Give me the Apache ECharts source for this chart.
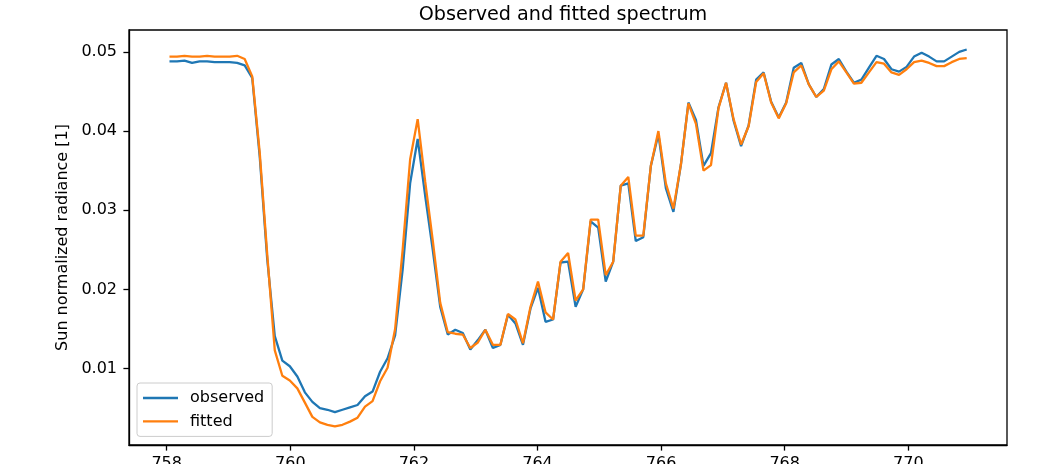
<!DOCTYPE html>
<html>
<head>
<meta charset="utf-8">
<script src="https://cdn.jsdelivr.net/npm/echarts@6/dist/echarts.min.js"></script>
<style>
html,body{margin:0;padding:0;background:#fff;}
#chart{width:1037px;height:464px;}
</style>
</head>
<body>
<div id="chart"></div>
<script>
const wavelength = [
758.045,758.167,758.288,758.410,758.532,758.654,758.775,758.897,759.019,759.140,
759.262,759.384,759.505,759.627,759.749,759.871,759.992,760.114,760.236,760.357,
760.479,760.601,760.722,760.844,760.966,761.088,761.209,761.331,761.453,761.574,
761.696,761.818,761.939,762.061,762.183,762.305,762.426,762.548,762.670,762.791,
762.913,763.035,763.156,763.278,763.400,763.522,763.643,763.765,763.887,764.008,
764.130,764.252,764.373,764.495,764.617,764.739,764.860,764.982,765.104,765.225,
765.347,765.469,765.590,765.712,765.834,765.956,766.077,766.199,766.321,766.442,
766.564,766.686,766.807,766.929,767.051,767.173,767.294,767.416,767.538,767.659,
767.781,767.903,768.024,768.146,768.268,768.390,768.511,768.633,768.755,768.876,
768.998,769.120,769.241,769.363,769.485,769.607,769.728,769.850,769.972,770.093,
770.215,770.337,770.458,770.580,770.702,770.824,770.945
];
const observed = [
0.0488,0.0488,0.0489,0.0486,0.0488,0.0488,0.0487,0.0487,0.0487,0.0486,
0.0483,0.0467,0.0368,0.0238,0.0141,0.0110,0.0103,0.0090,0.0070,0.0058,
0.0050,0.0048,0.0045,0.0048,0.0051,0.0054,0.0065,0.0071,0.0096,0.0113,
0.0142,0.0225,0.0334,0.0390,0.0318,0.0250,0.0178,0.0143,0.0149,0.0145,
0.0124,0.0136,0.0149,0.0126,0.0130,0.0168,0.0157,0.0130,0.0176,0.0202,
0.0159,0.0162,0.0234,0.0235,0.0178,0.0200,0.0286,0.0278,0.0210,0.0235,
0.0331,0.0334,0.0261,0.0266,0.0356,0.0396,0.0328,0.0298,0.0358,0.0436,
0.0414,0.0356,0.0372,0.0430,0.0461,0.0413,0.0381,0.0407,0.0465,0.0474,
0.0437,0.0417,0.0436,0.0480,0.0486,0.0459,0.0443,0.0453,0.0484,0.0491,
0.0475,0.0461,0.0465,0.0480,0.0495,0.0491,0.0478,0.0475,0.0481,0.0494,
0.0499,0.0494,0.0488,0.0488,0.0494,0.0500,0.0503
];
const fitted = [
0.0494,0.0494,0.0495,0.0494,0.0494,0.0495,0.0494,0.0494,0.0494,0.0495,
0.0491,0.0469,0.0373,0.0244,0.0123,0.0091,0.0085,0.0075,0.0057,0.0039,
0.0032,0.0029,0.0027,0.0029,0.0033,0.0038,0.0052,0.0059,0.0084,0.0101,
0.0150,0.0250,0.0364,0.0415,0.0336,0.0262,0.0183,0.0146,0.0144,0.0143,
0.0126,0.0133,0.0149,0.0130,0.0130,0.0169,0.0162,0.0132,0.0178,0.0210,
0.0171,0.0162,0.0235,0.0246,0.0186,0.0200,0.0288,0.0288,0.0218,0.0235,
0.0331,0.0342,0.0268,0.0268,0.0356,0.0400,0.0334,0.0302,0.0358,0.0435,
0.0409,0.0350,0.0357,0.0429,0.0461,0.0415,0.0383,0.0406,0.0462,0.0473,
0.0436,0.0416,0.0435,0.0474,0.0483,0.0459,0.0443,0.0451,0.0478,0.0488,
0.0474,0.0460,0.0461,0.0474,0.0487,0.0485,0.0474,0.0471,0.0478,0.0487,
0.0489,0.0486,0.0482,0.0482,0.0487,0.0491,0.0492
];
const xTicks = [758, 760, 762, 764, 766, 768, 770];
const yTicks = [0.01, 0.02, 0.03, 0.04, 0.05];

const FONT = 'DejaVu Sans';
const chart = echarts.init(document.getElementById('chart'), null, {renderer: 'canvas'});
const pair = (ys) => wavelength.map((x, i) => [x, ys[i]]);

chart.setOption({
  animation: false,
  backgroundColor: '#fff',
  title: {
    text: 'Observed and fitted spectrum',
    left: 563, top: 6, padding: 0, textAlign: 'center',
    textStyle: {fontFamily: FONT, fontSize: 19.2, fontWeight: 'normal', color: '#000'}
  },
  grid: {
    left: 129, top: 30, right: 30, bottom: 19,
    containLabel: false, outerBoundsMode: 'none',
    show: true, borderColor: '#000', borderWidth: 1.3, backgroundColor: 'transparent'
  },
  legend: {
    orient: 'vertical', left: 137, top: 383,
    padding: [6, 8, 6, 6], itemGap: 5.4,
    itemWidth: 35, itemHeight: 2.3, icon: 'rect',
    backgroundColor: '#fff', borderColor: '#cccccc', borderWidth: 1, borderRadius: 3,
    textStyle: {fontFamily: FONT, fontSize: 16, color: '#000', lineHeight: 18, padding: [0, 0, 0, 7]},
    data: ['observed', 'fitted']
  },
  xAxis: {
    type: 'value', min: 757.39, max: 771.597,
    axisLine: {show: true, onZero: false, lineStyle: {color: '#000', width: 1.3}},
    axisTick: {show: true, customValues: xTicks, length: 5.6, lineStyle: {color: '#000', width: 1.3}},
    axisLabel: {customValues: xTicks, margin: 11, color: '#000', fontFamily: FONT, fontSize: 16,
      formatter: v => String(Math.round(v))},
    splitLine: {show: false}
  },
  yAxis: {
    type: 'value', min: 0.00035, max: 0.05276,
    name: 'Sun normalized radiance [1]', nameLocation: 'middle', nameGap: 50, nameRotate: 90,
    nameTextStyle: {fontFamily: FONT, fontSize: 16, color: '#000'},
    axisLine: {show: true, onZero: false, lineStyle: {color: '#000', width: 1.3}},
    axisTick: {show: true, customValues: yTicks, length: 5.6, lineStyle: {color: '#000', width: 1.3}},
    axisLabel: {customValues: yTicks, margin: 12, color: '#000', fontFamily: FONT, fontSize: 16,
      formatter: v => v.toFixed(2)},
    splitLine: {show: false}
  },
  series: [
    {name: 'observed', type: 'line', data: pair(observed), showSymbol: false, symbol: 'none',
     color: '#1f77b4', lineStyle: {width: 2.3, color: '#1f77b4'}, z: 2},
    {name: 'fitted', type: 'line', data: pair(fitted), showSymbol: false, symbol: 'none',
     color: '#ff7f0e', lineStyle: {width: 2.3, color: '#ff7f0e'}, z: 3}
  ]
});
</script>
</body>
</html>
